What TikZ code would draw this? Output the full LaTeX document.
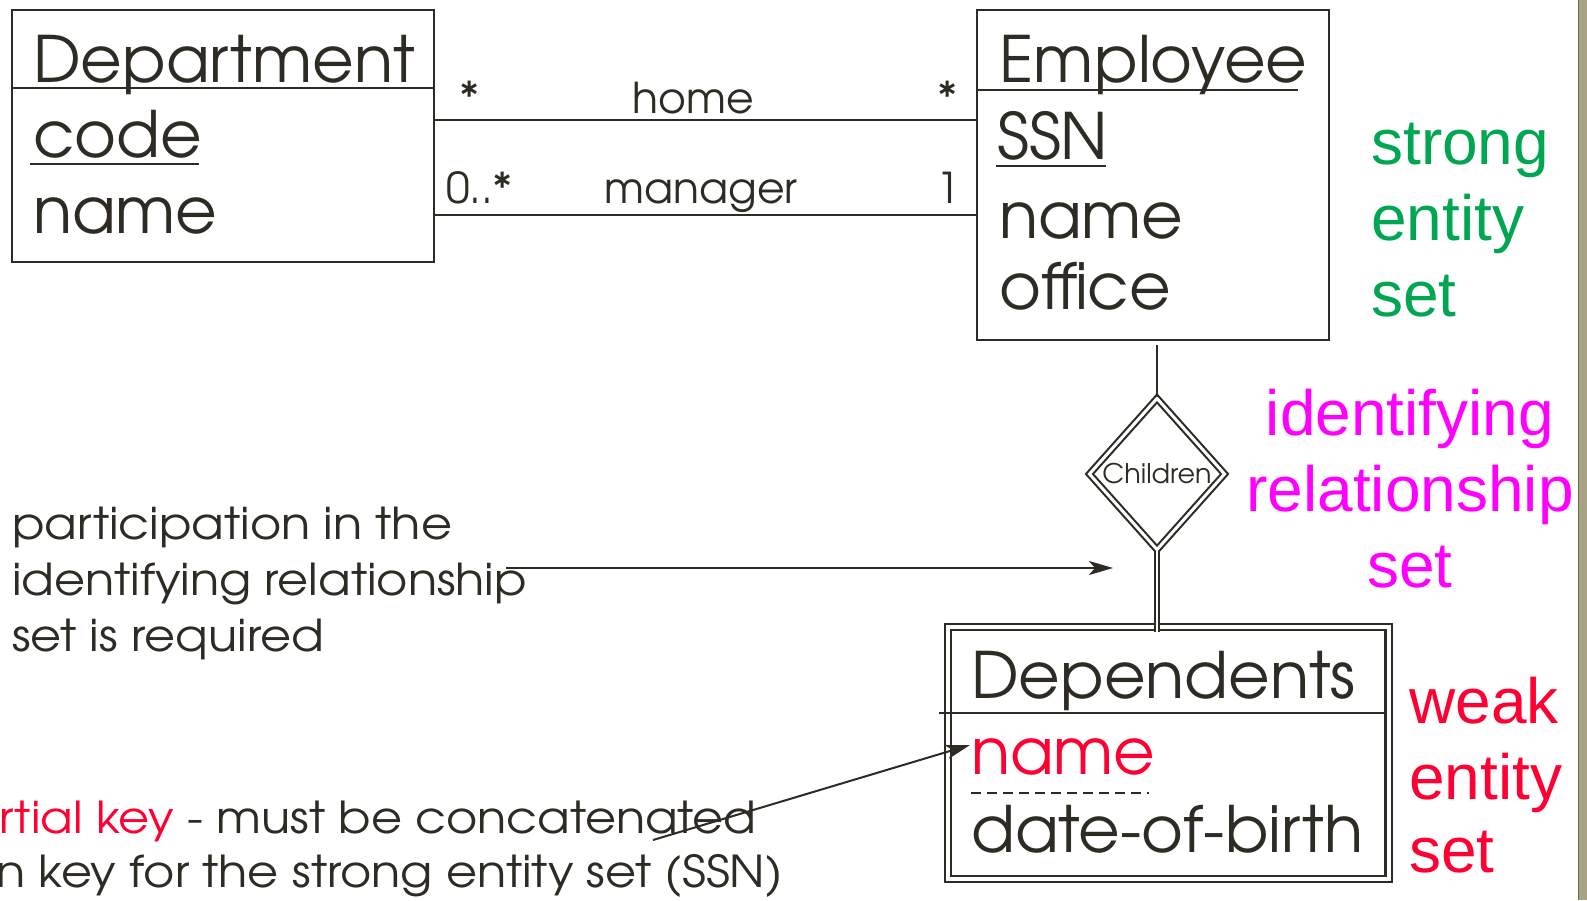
\documentclass[tikz,border=0pt]{standalone}
\usepackage{fontspec}
\setmainfont{texgyreadventor-regular.otf}
\newfontfamily\notef[FakeStretch=1.085]{texgyreadventor-regular.otf}
\newfontfamily\arialf{Liberation Sans}
\usetikzlibrary{shapes.geometric,arrows.meta}
\definecolor{ink}{HTML}{2E2B24}
\definecolor{wred}{HTML}{FF0033}
\definecolor{sgreen}{HTML}{00A651}
\definecolor{imag}{HTML}{FF00FF}
\definecolor{strip}{HTML}{A9A385}
\definecolor{stripedge}{HTML}{6F6B59}
\begin{document}
\begin{tikzpicture}[x=1pt,y=-1pt,
 ent/.style={draw=ink, line width=2.4pt, inner sep=0pt, anchor=north west},
 big/.style={font=\fontsize{64}{70}\selectfont, text=ink, inner sep=0pt, anchor=base west},
 lab/.style={font=\fontsize{42.5}{46}\selectfont, text=ink, inner sep=0pt, anchor=base},
 note/.style={font=\notef\fontsize{44}{56}\selectfont, text=ink, inner sep=0pt, anchor=base west},
 side/.style={font=\arialf\fontsize{64}{76}\selectfont, inner sep=0pt},
 rule/.style={draw=ink, line width=2.3pt},
 conn/.style={draw=ink, line width=2pt},
 arr/.style={conn, -{Stealth[length=24pt,width=14pt,inset=6pt]}}
]
\fill[white] (0,0) rectangle (1587,900);
\useasboundingbox (0,0) rectangle (1587,900);
\fill[strip] (1578,0) rectangle (1587,900);
\draw[stripedge, line width=1.5pt] (1578.5,0) -- (1578.5,900);

% Department
\node[ent, minimum width=422pt, minimum height=252pt] (dept) at (11,9) {};
\node[big] (dtitle) at (33,82) {Department};
\draw[rule] (11,88) -- (433,88);
\node[big] (dcode) at (33,157) {code};
\draw[rule] (30,164) -- (199,164);
\node[big] (dnm) at (33,233) {name};

% Employee
\node[ent, minimum width=352pt, minimum height=330pt] (emp) at (976,9) {};
\node[big] (etitle) at (999,82) {Employee};
\draw[rule] (978,90) -- (1298,90);
\node[big] (essn) at (997,159) {SSN};
\draw[rule] (996,166) -- (1106,166);
\node[big] (enm) at (999,238) {name};
\node[big] (eoff) at (999,309) {office};

% relationships
\coordinate (hy) at (0,120);
\coordinate (my) at (0,215);
\draw[conn] (dept.east |- hy) -- (emp.west |- hy);
\draw[conn] (dept.east |- my) -- (emp.west |- my);
\node[lab, anchor=center] (m1) at (470,97) {*};
\node[lab] (hl) at (693,113) {home};
\node[lab, anchor=center] (m2) at (948,97) {*};
\node[lab, anchor=base west] (m3) at (446,203) {0..*};
\node[lab] (ml) at (701,203) {manager};
\node[lab] (m4) at (948,203) {1};

% identifying relationship
\node[diamond, draw=ink, double=white, double distance=3pt, line width=2.1pt,
      minimum width=136pt, minimum height=152pt, inner sep=0pt,
      font=\fontsize{27}{29}\selectfont, text=ink] (rel) at (1157,474) {Children};
\coordinate (estub) at (1157,345);
\draw[conn] (estub) -- (rel.north);

% Dependents (weak entity)
\node[ent, double=white, double distance=4pt, line width=2.2pt,
      minimum width=440.5pt, minimum height=252pt] (dep) at (947,626) {};
\draw[draw=ink, double=white, double distance=2.6pt, line width=1.8pt, shorten >=-6pt]
  (rel.south) -- (rel.south |- dep.north);
\draw[rule, line width=2.2pt] (939,713) -- (1387,713);
\node[big] (dptitle) at (971,698) {Dependents};
\node[big, text=wred] (dpname) at (971,774) {name};
\draw[draw=ink, line width=2pt, dash pattern=on 10pt off 6pt] (971,793) -- (1149,793);
\node[big] (dpdob) at (971,852) {date-of-birth};

% participation note
\node[note] (p1) at (12,539) {participation in the};
\node[note] (p2) at (12,595) {identifying relationship};
\node[note] (p3) at (12,651) {set is required};
\coordinate (pstart) at (506,568);
\coordinate (ptip) at (1113,568);
\draw[arr] (pstart) -- (ptip);

% partial key note
\node[note] (k1) at (-1,833) {{\color{wred}rtial key} - must be concatenated};
\node[note] (k2) at (-4,887) {n key for the strong entity set (SSN)};
\coordinate (kstart) at (653,840);
\coordinate (ktip) at (970,745);
\draw[arr] (kstart) -- (ktip);

% side labels
\node[side, text=sgreen, anchor=base west] (s1) at (1371,164) {strong};
\node[side, text=sgreen, anchor=base west] (s2) at (1371,240) {entity};
\node[side, text=sgreen, anchor=base west] (s3) at (1371,316) {set};
\node[side, text=imag, anchor=base] (i1) at (1410,435) {identifying};
\node[side, text=imag, anchor=base] (i2) at (1410,511) {relationship};
\node[side, text=imag, anchor=base] (i3) at (1410,587) {set};
\node[side, text=wred, anchor=base west] (w1) at (1409,723) {weak};
\node[side, text=wred, anchor=base west] (w2) at (1409,799) {entity};
\node[side, text=wred, anchor=base west] (w3) at (1409,872) {set};
\end{tikzpicture}
\end{document}
